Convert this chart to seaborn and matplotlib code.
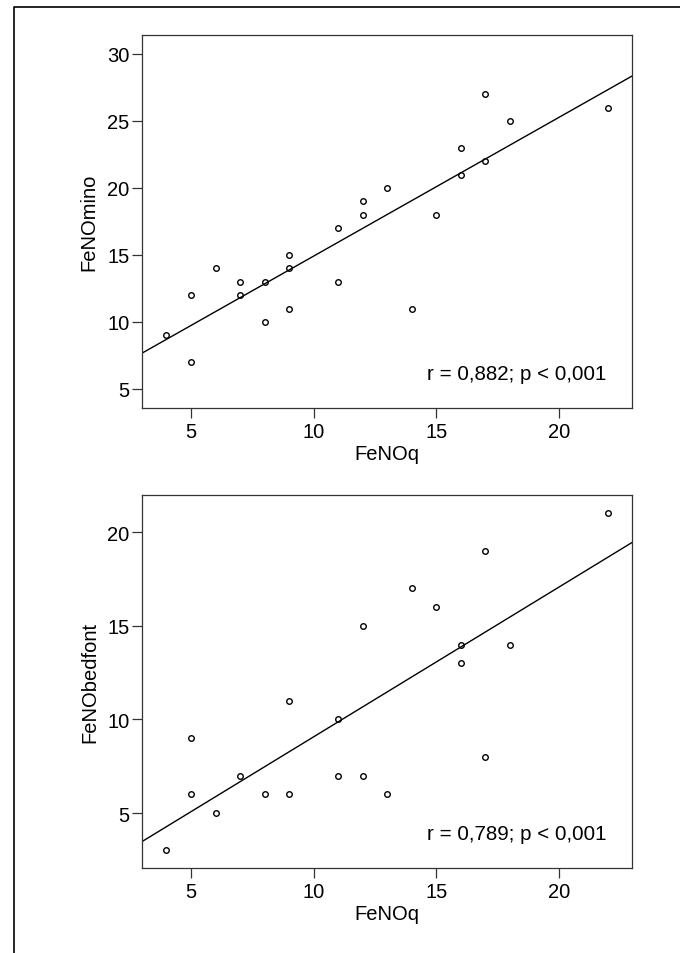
import matplotlib
matplotlib.use("Agg")
import matplotlib.pyplot as plt
from matplotlib.lines import Line2D
import pandas as pd
import seaborn as sns

# FeNOq vs FeNOmino (top panel)
feno_q_top = [4, 5, 5, 6, 7, 7, 8, 8, 9, 9, 9, 11, 11, 12, 12, 13, 14, 15, 16, 16, 17, 17, 18, 22]
feno_mino = [9, 12, 7, 14, 13, 12, 13, 10, 15, 14, 11, 17, 13, 19, 18, 20, 11, 18, 23, 21, 27, 22, 25, 26]

# FeNOq vs FeNObedfont (bottom panel)
feno_q_bot = [4, 5, 5, 6, 7, 8, 9, 9, 11, 11, 12, 12, 13, 14, 15, 16, 16, 17, 17, 18, 22]
feno_bedfont = [3, 9, 6, 5, 7, 6, 11, 6, 10, 7, 15, 7, 6, 17, 16, 14, 13, 19, 8, 14, 21]

stats_top = "r = 0,882; p < 0,001"
stats_bot = "r = 0,789; p < 0,001"

sns.set_style("white")
plt.rcParams["font.family"] = ["Liberation Sans", "DejaVu Sans"]
plt.rcParams["font.size"] = 14
plt.rcParams["text.color"] = "black"
plt.rcParams["axes.labelcolor"] = "black"
plt.rcParams["xtick.color"] = "black"
plt.rcParams["ytick.color"] = "black"

fig = plt.figure(figsize=(6.8, 9.54), dpi=100)
ax_top = fig.add_axes([0.2088, 0.5710, 0.7210, 0.3916])
ax_bot = fig.add_axes([0.2088, 0.0888, 0.7210, 0.3916])

panels = [
    (ax_top, pd.DataFrame({"FeNOq": feno_q_top, "FeNOmino": feno_mino}), "FeNOmino",
     (3.56, 31.44), [5, 10, 15, 20, 25, 30], stats_top),
    (ax_bot, pd.DataFrame({"FeNOq": feno_q_bot, "FeNObedfont": feno_bedfont}), "FeNObedfont",
     (2.05, 22.0), [5, 10, 15, 20], stats_bot),
]

for ax, df, ycol, ylim, yticks, stat in panels:
    ax.set_xlim(3, 23)
    ax.set_ylim(*ylim)
    sns.regplot(data=df, x="FeNOq", y=ycol, ax=ax, ci=None, truncate=False,
                scatter_kws=dict(s=16, facecolor="white", edgecolor="black", linewidths=1.0, alpha=1),
                line_kws=dict(color="black", lw=1.0))
    ax.set_xlim(3, 23)
    ax.set_ylim(*ylim)
    ax.set_xticks([5, 10, 15, 20])
    ax.set_yticks(yticks)
    ax.tick_params(axis="both", which="major", direction="out", length=7, width=0.9,
                   color="#333333", labelcolor="black", labelsize=14.5, bottom=True, left=True)
    ax.tick_params(axis="x", pad=3)
    ax.tick_params(axis="y", pad=2)
    for sp in ax.spines.values():
        sp.set_visible(True)
        sp.set_color("#333333")
        sp.set_linewidth(0.9)
    ax.set_xlabel("FeNOq", fontsize=14.5, labelpad=2, color="black")
    ax.set_ylabel(ycol, fontsize=14.5, labelpad=6, color="black")
    ax.text(0.948, 0.078, stat, transform=ax.transAxes, ha="right", va="baseline",
            fontsize=14.8, color="black")

# outer frame (top and left edges)
fig.add_artist(Line2D([14 / 680, 14 / 680, 1.0], [0.0, 1 - 8.3 / 954, 1 - 8.3 / 954],
                      transform=fig.transFigure, color="black", lw=1.2))

fig.savefig("out.png", dpi=100)
